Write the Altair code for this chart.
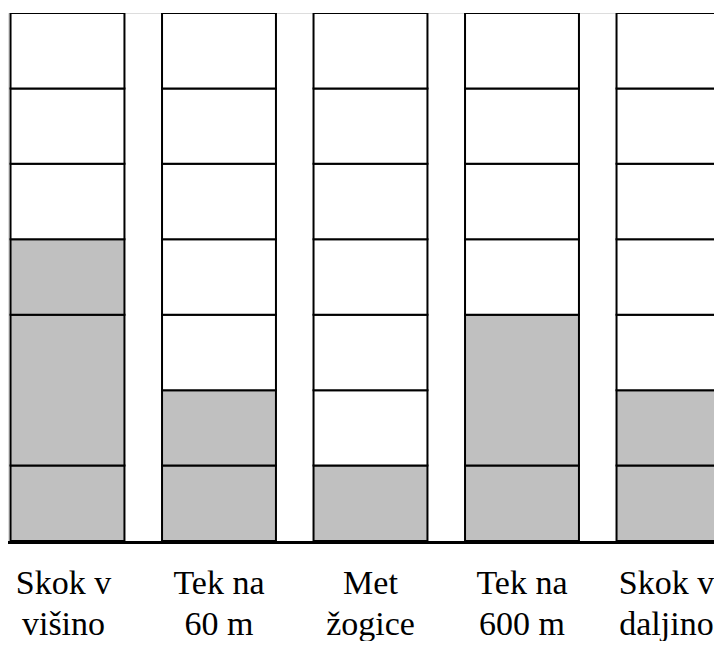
import altair as alt
import pandas as pd

# ---- data ----
labels = ["Skok v\nvišino", "Tek na\n60 m", "Met\nžogice", "Tek na\n600 m", "Skok v\ndaljino"]
scores = [4, 2, 1, 3, 2]
# gray blocks stacked from the bottom (sizes in cells)
gray_blocks = [[1, 2, 1], [1, 1], [1], [1, 2], [1, 1]]
max_cells = 7

half = 0.376  # half width of a column, in category units

rows = []
for i, (lab, sc, blocks) in enumerate(zip(labels, scores, gray_blocks)):
    y = 0
    for b in blocks:
        rows.append({"idx": i, "x0": i - half, "x1": i + half, "y0": y, "y1": y + b, "fill": "gray"})
        y += b
    for k in range(sc, max_cells):
        rows.append({"idx": i, "x0": i - half, "x1": i + half, "y0": k, "y1": k + 1, "fill": "white"})
cells = pd.DataFrame(rows)

W = 706
PITCH = 151.5
text_df = pd.DataFrame({"idx": list(range(len(labels))), "label": labels})
# keep the last (edge) label inside the canvas
text_df["lx"] = text_df["idx"].astype(float)
text_df.loc[len(labels) - 1, "lx"] -= 7 / PITCH
text_df.loc[0, "lx"] -= 4 / PITCH

xscale = alt.Scale(domain=[-0.3927, -0.3927 + W / PITCH], nice=False, zero=False)
yscale = alt.Scale(domain=[0, max_cells], nice=False, zero=True)

rects = alt.Chart(cells).mark_rect(stroke="black", strokeWidth=2, clip=True).encode(
    x=alt.X("x0:Q", scale=xscale, axis=None),
    x2="x1:Q",
    y=alt.Y("y0:Q", scale=yscale, axis=None),
    y2="y1:Q",
    fill=alt.Fill("fill:N", scale=alt.Scale(domain=["gray", "white"], range=["#c0c0c0", "#ffffff"]), legend=None),
)

base_line = alt.Chart(pd.DataFrame({"v": [0]})).mark_rule(color="black", strokeWidth=3, yOffset=1.5).encode(
    y=alt.Y("v:Q", scale=yscale, axis=None)
)

texts = alt.Chart(text_df).mark_text(
    font="Times New Roman", fontSize=34, lineBreak="\n", lineHeight=41,
    baseline="alphabetic", align="center", color="black"
).encode(
    x=alt.X("lx:Q", scale=xscale, axis=None),
    y=alt.value(581),
    text="label:N",
)

chart = alt.layer(rects, base_line, texts).properties(
    width=W, height=528,
    autosize=alt.AutoSizeParams(type="none"),
    padding={"top": 5, "left": 0, "right": 0, "bottom": 100},
).configure_view(stroke=None).configure(background="white")

chart.save("out.html", embed_options={"renderer": "svg", "actions": False})
